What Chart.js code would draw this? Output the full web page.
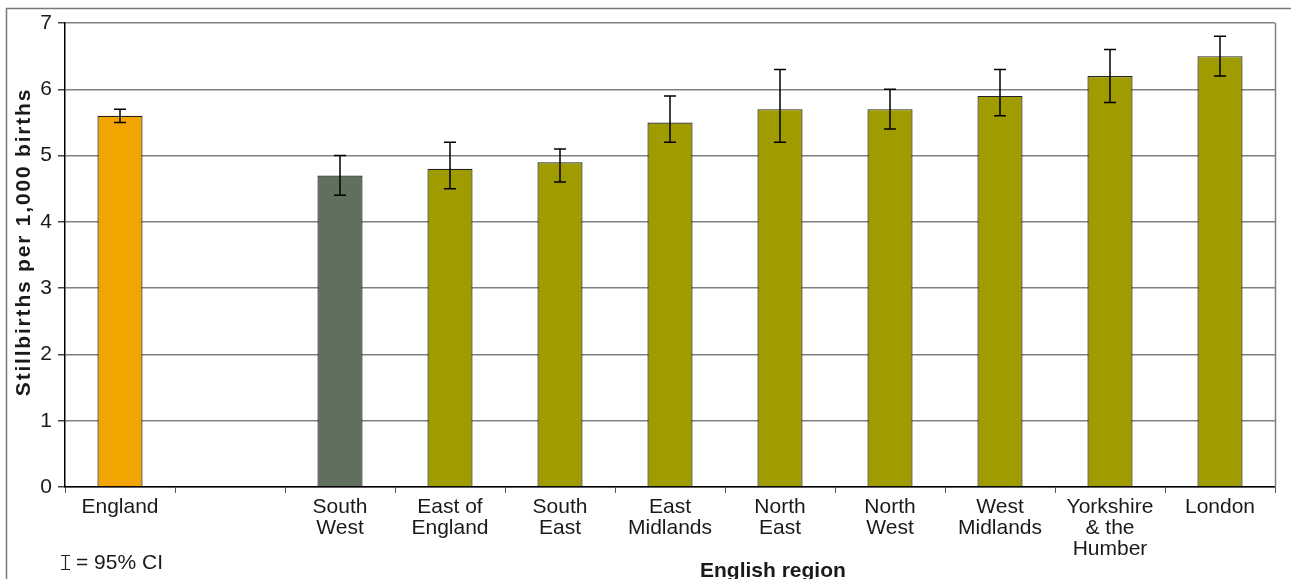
<!DOCTYPE html>
<html>
<head>
<meta charset="utf-8">
<script src="https://cdn.jsdelivr.net/npm/chart.js@4/dist/chart.umd.min.js"></script>
<style>
  html, body { margin: 0; padding: 0; background: #fff; }
  #wrap { width: 1291px; height: 579px; }
</style>
</head>
<body>
<div id="wrap"><canvas id="stillbirths"></canvas></div>
<script>
// Stillbirth rates by English region, with 95% confidence intervals
const regions = [
    'England', '', ['South', 'West'], ['East of', 'England'], ['South', 'East'],
    ['East', 'Midlands'], ['North', 'East'], ['North', 'West'], ['West', 'Midlands'],
    ['Yorkshire', '& the', 'Humber'], 'London'
];
const rates  = [5.6, null, 4.7, 4.8, 4.9, 5.5, 5.7, 5.7, 5.9, 6.2, 6.5];
const ciLow  = [5.5, null, 4.4, 4.5, 4.6, 5.2, 5.2, 5.4, 5.6, 5.8, 6.2];
const ciHigh = [5.7, null, 5.0, 5.2, 5.1, 5.9, 6.3, 6.0, 6.3, 6.6, 6.8];
const yTicks = [0, 1, 2, 3, 4, 5, 6, 7];

const barColours = ['#f2a400', '#a09c00', '#5f705c', '#a09c00', '#a09c00', '#a09c00',
                    '#a09c00', '#a09c00', '#a09c00', '#a09c00', '#a09c00'];
const FONT = 'Liberation Sans, Arial, sans-serif';
const INK = '#1a1a1a';

// outer frame, plot border, CI whiskers, axis titles and the CI key
const extras = {
    id: 'extras',
    beforeDraw(chart) {
        const ctx = chart.ctx;
        ctx.save();
        ctx.strokeStyle = '#7a7a7a';
        ctx.lineWidth = 1.5;
        ctx.strokeRect(6.5, 8.5, 1400, 700);
        ctx.restore();
    },
    afterDatasetsDraw(chart) {
        const ctx = chart.ctx;
        const y = chart.scales.y;
        const meta = chart.getDatasetMeta(0);
        const a = chart.chartArea;
        ctx.save();
        ctx.strokeStyle = '#808080';
        ctx.lineWidth = 1.5;
        ctx.beginPath();
        ctx.moveTo(Math.round(a.right) + 0.5, a.top);
        ctx.lineTo(Math.round(a.right) + 0.5, a.bottom);
        ctx.stroke();

        ctx.strokeStyle = '#000';
        ctx.lineWidth = 1.5;
        meta.data.forEach((bar, i) => {
            if (ciLow[i] == null) return;
            const x = Math.round(bar.x);
            const top = y.getPixelForValue(ciHigh[i]);
            const bot = y.getPixelForValue(ciLow[i]);
            ctx.beginPath();
            ctx.moveTo(x, top); ctx.lineTo(x, bot);
            ctx.moveTo(x - 6, top); ctx.lineTo(x + 6, top);
            ctx.moveTo(x - 6, bot); ctx.lineTo(x + 6, bot);
            ctx.stroke();
        });
        ctx.restore();
    },
    afterDraw(chart) {
        const ctx = chart.ctx;
        ctx.save();
        ctx.fillStyle = INK;

        // y axis title
        ctx.save();
        ctx.translate(24, 242);
        ctx.rotate(-Math.PI / 2);
        ctx.font = 'bold 21px ' + FONT;
        ctx.letterSpacing = '1.8px';
        ctx.textAlign = 'center';
        ctx.textBaseline = 'middle';
        ctx.fillText('Stillbirths per 1,000 births', 0, 0);
        ctx.restore();

        // x axis title
        ctx.font = 'bold 21px ' + FONT;
        ctx.textAlign = 'left';
        ctx.textBaseline = 'alphabetic';
        ctx.fillText('English region', 700, 577);

        // CI key
        ctx.strokeStyle = '#222';
        ctx.lineWidth = 1.2;
        ctx.beginPath();
        ctx.moveTo(65.5, 555); ctx.lineTo(65.5, 570);
        ctx.moveTo(61, 555.5); ctx.lineTo(70, 555.5);
        ctx.moveTo(61, 569.5); ctx.lineTo(70, 569.5);
        ctx.stroke();
        ctx.font = '21px ' + FONT;
        ctx.fillText('= 95% CI', 76, 569);
        ctx.restore();
    }
};

new Chart(document.getElementById('stillbirths').getContext('2d'), {
    type: 'bar',
    data: {
        labels: regions,
        datasets: [{
            data: rates,
            backgroundColor: barColours,
            borderColor: '#222',
            borderWidth: 1.2,
            categoryPercentage: 1,
            barPercentage: 0.41
        }]
    },
    options: {
        responsive: true,
        maintainAspectRatio: false,
        animation: false,
        layout: { padding: { left: 0, top: 23, right: 16, bottom: 0 } },
        plugins: { legend: { display: false }, tooltip: { enabled: false } },
        scales: {
            x: {
                grid: { drawOnChartArea: false, drawTicks: true, tickLength: 6, color: '#555', offset: true },
                border: { color: '#000', width: 1.5 },
                ticks: {
                    color: INK, font: { family: FONT, size: 21, lineHeight: 1.0 },
                    padding: 4, maxRotation: 0, autoSkip: false
                },
                afterFit(scale) { scale.height = 92; }
            },
            y: {
                min: 0, max: 7,
                afterBuildTicks(scale) { scale.ticks = yTicks.map(v => ({ value: v })); },
                grid: { color: '#808080', lineWidth: 1.5, tickColor: '#444', tickLength: 7 },
                border: { color: '#000', width: 1.5 },
                ticks: { color: INK, font: { family: FONT, size: 21 }, padding: 6 },
                afterFit(scale) { scale.width = 65; }
            }
        }
    },
    plugins: [extras]
});
</script>
</body>
</html>
